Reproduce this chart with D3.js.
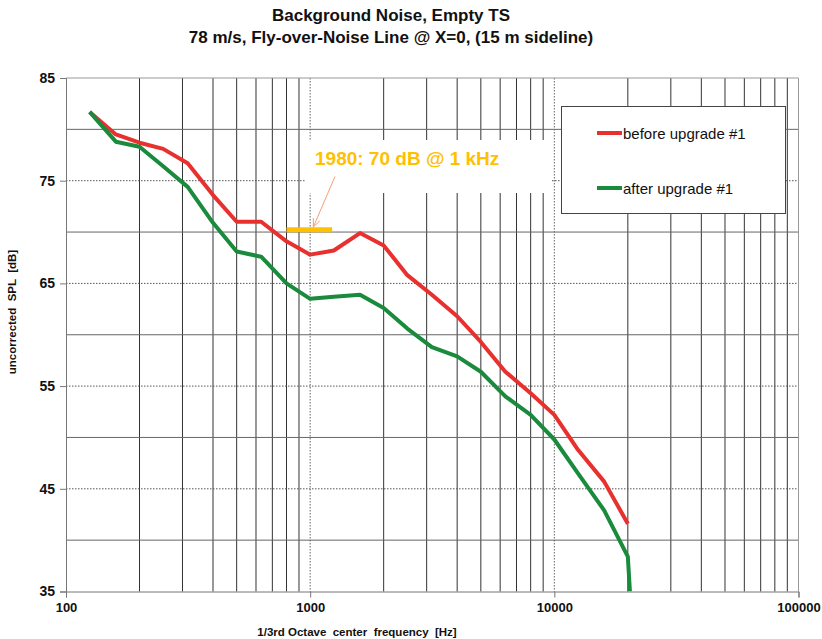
<!DOCTYPE html>
<html><head><meta charset="utf-8">
<script src="https://cdn.jsdelivr.net/npm/d3@7"></script>
<style>
body{margin:0;background:#fff;}
svg{display:block;}
text{font-family:Arial,"Liberation Sans",sans-serif;}
</style></head>
<body>
<script>
// ---- data ----
const freqs = [125,160,200,250,315,400,500,630,800,1000,1250,1600,2000,2500,3150,4000,5000,6300,8000,10000,12500,16000,20000];
const before = [81.7,79.5,78.7,78.1,76.7,73.6,71.0,71.0,69.1,67.8,68.2,69.9,68.7,65.8,63.9,61.8,59.3,56.4,54.3,52.2,48.8,45.7,41.6];
const afterFreqs = [125,160,200,250,315,400,500,630,800,1000,1250,1600,2000,2500,3150,4000,5000,6300,8000,10000,12500,16000,20000,20400];
const after = [81.7,78.8,78.3,76.4,74.4,70.9,68.1,67.6,65.0,63.5,63.7,63.9,62.6,60.6,58.8,57.9,56.4,54.0,52.2,49.8,46.5,42.9,38.4,35.0];
const seriesNames = ["before upgrade #1","after upgrade #1"];
const seriesColors = ["#E8312F","#1A8A3C"];
const yTickLabels = [35,45,55,65,75,85];
const yGrid = [40,45,50,55,60,65,70,75,80];
const xTickLabels = [100,1000,10000,100000];
const ref1980 = {f0:800, f1:1230, level:70, label:"1980: 70 dB @ 1 kHz"};
const titleLines = ["Background Noise, Empty TS","78 m/s, Fly-over-Noise Line @ X=0, (15 m sideline)"];
const xTitle = "1/3rd Octave  center  frequency  [Hz]";
const yTitle = "uncorrected  SPL  [dB]";

const W=822,H=639;
const L=66,R=798.5,T=78,B=591.5;
const svg=d3.select("body").append("svg").attr("width",W).attr("height",H);
const x=d3.scaleLog().domain([100,100000]).range([L,R]);
const y=d3.scaleLinear().domain([35,85]).range([B,T]);

svg.append("defs").append("clipPath").attr("id","clip")
  .append("rect").attr("x",L).attr("y",T).attr("width",R-L).attr("height",B-T);

// grid
const g=svg.append("g");
const allX = x.ticks();
allX.forEach(v=>{
  const dec = Math.abs(Math.log10(v)-Math.round(Math.log10(v)))<1e-9;
  if(v===100||v===100000) return;
  g.append("line").attr("x1",x(v)).attr("x2",x(v)).attr("y1",T).attr("y2",B)
    .attr("stroke",dec?"#666":"#333").attr("stroke-width",1)
    .attr("stroke-dasharray",dec?"1.5,1.5":null);
});
yGrid.forEach(v=>{
  const lab = yTickLabels.includes(v);
  g.append("line").attr("x1",L).attr("x2",R).attr("y1",y(v)).attr("y2",y(v))
    .attr("stroke",lab?"#555":"#666").attr("stroke-width",1)
    .attr("stroke-dasharray",lab?"1.5,1.5":null);
});
// top and right border
g.append("line").attr("x1",L).attr("x2",R).attr("y1",T).attr("y2",T).attr("stroke","#999");
g.append("line").attr("x1",R).attr("x2",R).attr("y1",T).attr("y2",B).attr("stroke","#999");

// annotation box (white background)
svg.append("rect").attr("x",305).attr("y",140).attr("width",246).attr("height",53).attr("fill","#fff");

// axes
const yAxis=d3.axisLeft(y).tickValues(yTickLabels).tickSize(6).tickPadding(5).tickFormat(d3.format("d"));
const ya=svg.append("g").attr("transform",`translate(${L},0)`).call(yAxis);
ya.select(".domain").attr("stroke","#777");
ya.selectAll(".tick line").attr("stroke","#777");
ya.selectAll("text").attr("font-size",14).attr("font-weight","bold").attr("fill","#111")
  .attr("font-family","Arial,'Liberation Sans',sans-serif");
const xAxis=d3.axisBottom(x).tickValues(xTickLabels).tickSize(6).tickPadding(5).tickFormat(d3.format("d"));
const xa=svg.append("g").attr("transform",`translate(0,${B})`).call(xAxis);
xa.select(".domain").attr("stroke","#777");
xa.selectAll(".tick line").attr("stroke","#777");
xa.selectAll("text").attr("font-size",13).attr("font-weight","bold").attr("fill","#111")
  .attr("font-family","Arial,'Liberation Sans',sans-serif");

// 1980 reference bar
svg.append("line").attr("x1",x(ref1980.f0)).attr("x2",x(ref1980.f1))
  .attr("y1",y(ref1980.level)-2.3).attr("y2",y(ref1980.level)-2.3)
  .attr("stroke","#FFC000").attr("stroke-width",5);
svg.append("text").attr("x",315).attr("y",165).text(ref1980.label)
  .attr("fill","#FFC000").attr("font-size",19).attr("font-weight","bold")
  .attr("font-family","Lato,'Open Sans',sans-serif");
// arrow
const ax0=335, ay0=176.5, ax1=x(1030), ay1=y(ref1980.level)-5;
svg.append("line").attr("x1",ax0).attr("y1",ay0).attr("x2",ax1).attr("y2",ay1)
  .attr("stroke","#F6A070").attr("stroke-width",1);
{
  const ang=Math.atan2(ay1-ay0,ax1-ax0), len=9, spread=0.4;
  const p=[[ax1-len*Math.cos(ang-spread),ay1-len*Math.sin(ang-spread)],[ax1,ay1],[ax1-len*Math.cos(ang+spread),ay1-len*Math.sin(ang+spread)]];
  svg.append("path").attr("d",d3.line()(p)).attr("fill","none").attr("stroke","#F6A070").attr("stroke-width",1);
}

// series
const line=d3.line().x(d=>x(d[0])).y(d=>y(d[1]));
const lg=svg.append("g").attr("clip-path","url(#clip)");
lg.append("path").datum(freqs.map((f,i)=>[f,before[i]])).attr("d",line)
  .attr("fill","none").attr("stroke",seriesColors[0]).attr("stroke-width",4).attr("stroke-linejoin","round");
lg.append("path").datum(afterFreqs.map((f,i)=>[f,after[i]])).attr("d",line)
  .attr("fill","none").attr("stroke",seriesColors[1]).attr("stroke-width",4).attr("stroke-linejoin","round");

// legend
const leg=svg.append("g");
leg.append("rect").attr("x",561.5).attr("y",106.5).attr("width",224).attr("height",107)
  .attr("fill","#fff").attr("stroke","#444").attr("stroke-width",1);
seriesNames.forEach((n,i)=>{
  const ly = i===0?133:188;
  leg.append("line").attr("x1",597).attr("x2",622).attr("y1",ly).attr("y2",ly)
    .attr("stroke",seriesColors[i]).attr("stroke-width",4);
  leg.append("text").attr("x",623).attr("y",ly+5.5).text(n).attr("font-size",15).attr("fill","#111");
});

// titles
titleLines.forEach((t,i)=>{
  svg.append("text").attr("x",391).attr("y",21+i*21.5).attr("text-anchor","middle")
    .attr("font-size",17).attr("font-weight","bold").attr("fill","#111").text(t);
});
svg.append("text").attr("x",357).attr("y",636).attr("text-anchor","middle")
  .attr("font-size",11.5).attr("font-weight","bold").attr("fill","#111")
  .style("white-space","pre").text(xTitle);
svg.append("text").attr("transform",`translate(16,312) rotate(-90)`).attr("text-anchor","middle")
  .attr("font-size",11.5).attr("font-weight","bold").attr("fill","#111")
  .style("white-space","pre").text(yTitle);
</script>
</body></html>
